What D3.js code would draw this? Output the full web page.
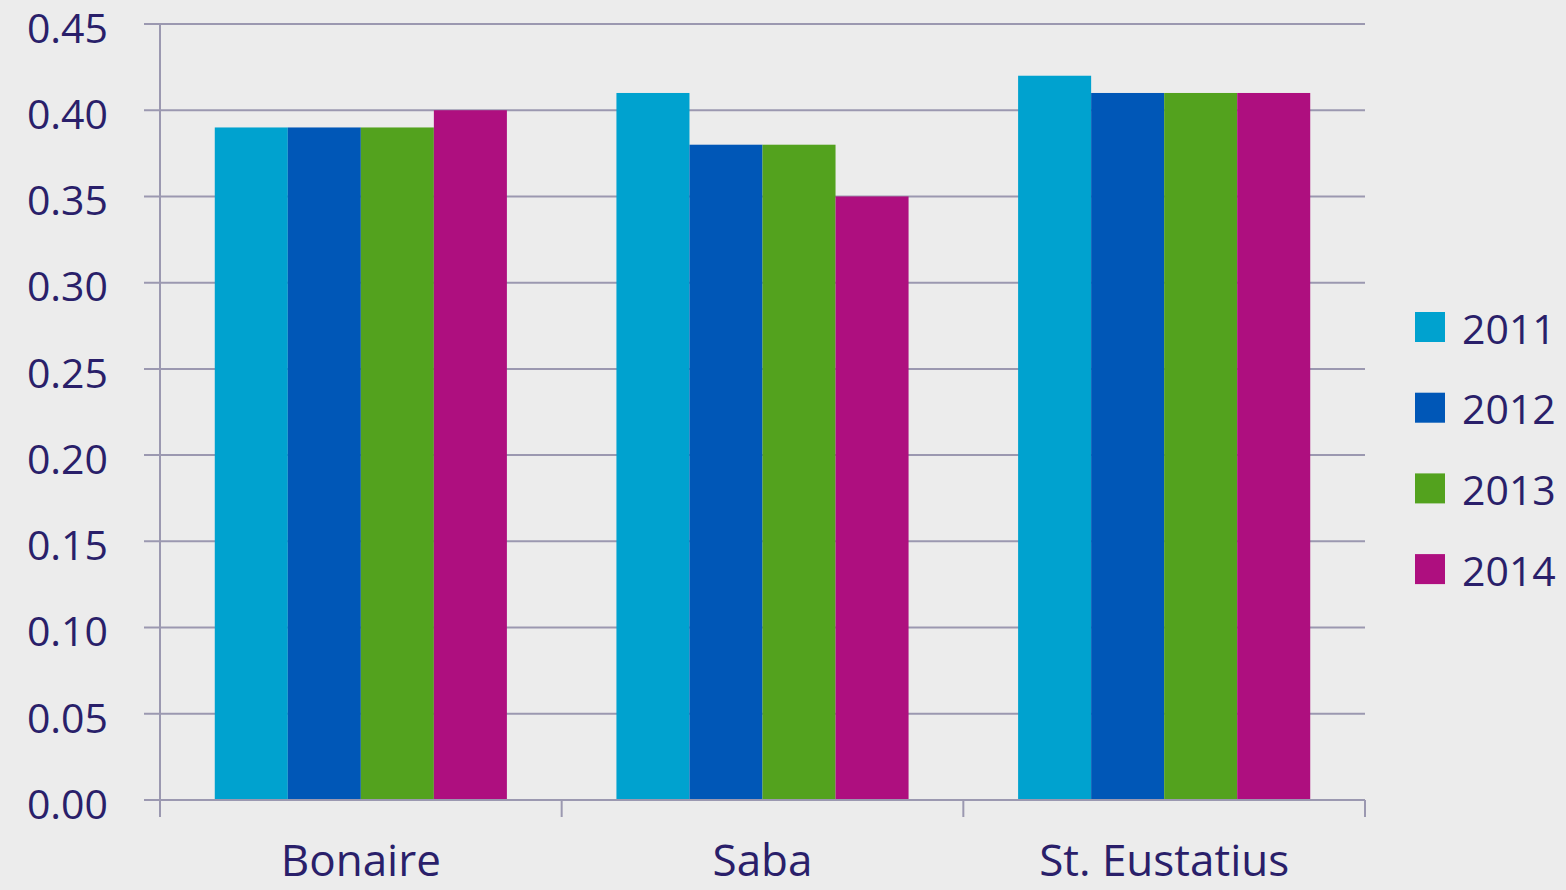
<!DOCTYPE html>
<html>
<head>
<meta charset="utf-8">
<script src="https://cdn.jsdelivr.net/npm/d3@7"></script>
<style>
  body { margin: 0; background: #ececec; }
  svg { display: block; font-family: "Open Sans", sans-serif; }
</style>
</head>
<body>
<svg></svg>
<script>
const categories = ["Bonaire", "Saba", "St. Eustatius"];
const years = ["2011", "2012", "2013", "2014"];
const values2011 = [0.39, 0.41, 0.42];
const values2012 = [0.39, 0.38, 0.41];
const values2013 = [0.39, 0.38, 0.41];
const values2014 = [0.40, 0.35, 0.41];
const yTicks = [0, 0.05, 0.1, 0.15, 0.2, 0.25, 0.3, 0.35, 0.4, 0.45];

const series = [values2011, values2012, values2013, values2014];
const colors = ["#00a2cf", "#0057b7", "#53a21e", "#ae0f7f"];

const width = 1566;
const height = 890;
const textColor = "#2a1f6a";
const lineColor = "#9b98b0";

let svg = d3.select("svg").attr("width", width).attr("height", height);

// scales
const x0 = d3.scaleBand().domain(categories).range([160, 1365]).padding(0);
const x1 = d3.scaleBand().domain(years).range([0, x0.bandwidth()]).paddingInner(0).paddingOuter(0.75);
const y = d3.scaleLinear().domain([0, 0.45]).range([800, 24]);

// gridlines
svg.append("g")
  .selectAll("line")
  .data(yTicks)
  .enter()
  .append("line")
  .attr("x1", 144)
  .attr("x2", 1365)
  .attr("y1", (d) => y(d))
  .attr("y2", (d) => y(d))
  .attr("stroke", lineColor)
  .attr("stroke-width", 2);

// y axis line
svg.append("line")
  .attr("x1", 160).attr("x2", 160)
  .attr("y1", y(0.45)).attr("y2", 817)
  .attr("stroke", lineColor).attr("stroke-width", 2);

// y tick labels
svg.append("g")
  .selectAll("text")
  .data(yTicks)
  .enter()
  .append("text")
  .attr("x", 108)
  .attr("y", (d) => y(d) + 4)
  .attr("dy", "0.36em")
  .attr("text-anchor", "end")
  .attr("fill", textColor)
  .attr("font-size", 41)
  .text((d) => d3.format(".2f")(d));

// bars
const rows = categories.map((c, i) => ({ cat: c, vals: series.map((s) => s[i]) }));
svg.append("g")
  .selectAll("g")
  .data(rows)
  .enter()
  .append("g")
  .attr("transform", (d) => "translate(" + x0(d.cat) + ",0)")
  .selectAll("rect")
  .data((d) => d.vals.map((v, j) => ({ year: years[j], v: v, color: colors[j] })))
  .enter()
  .append("rect")
  .attr("x", (d) => x1(d.year))
  .attr("width", x1.bandwidth())
  .attr("y", (d) => y(d.v))
  .attr("height", (d) => y(0) - y(d.v))
  .attr("fill", (d) => d.color);

// x axis
svg.append("line")
  .attr("x1", 144).attr("x2", 1365)
  .attr("y1", y(0)).attr("y2", y(0))
  .attr("stroke", lineColor).attr("stroke-width", 2);

const tickXs = categories.map((c) => x0(c)).concat([x0.range()[1]]);
svg.append("g")
  .selectAll("line")
  .data(tickXs)
  .enter()
  .append("line")
  .attr("x1", (d) => d).attr("x2", (d) => d)
  .attr("y1", y(0)).attr("y2", 817)
  .attr("stroke", lineColor).attr("stroke-width", 2);

svg.append("g")
  .selectAll("text")
  .data(categories)
  .enter()
  .append("text")
  .attr("x", (d) => x0(d) + x0.bandwidth() / 2)
  .attr("y", 876)
  .attr("text-anchor", "middle")
  .attr("fill", textColor)
  .attr("font-size", 44)
  .text((d) => d);

// legend
const legend = svg.append("g")
  .selectAll("g")
  .data(years)
  .enter()
  .append("g")
  .attr("transform", (d, i) => "translate(1415," + (312 + i * 80.7) + ")");

legend.append("rect")
  .attr("width", 30).attr("height", 30)
  .attr("fill", (d, i) => colors[i]);

legend.append("text")
  .attr("x", 47)
  .attr("y", 17)
  .attr("dy", "0.36em")
  .attr("fill", textColor)
  .attr("font-size", 41)
  .text((d) => d);
</script>
</body>
</html>
